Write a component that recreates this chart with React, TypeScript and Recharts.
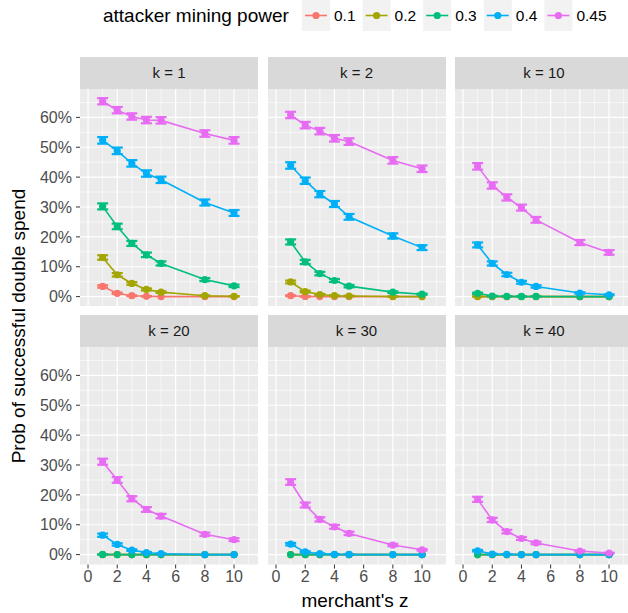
import React from "react";
import { LineChart, Line, XAxis, YAxis, CartesianGrid, ErrorBar, ReferenceLine } from "recharts";

const Z = [1, 2, 3, 4, 5, 8, 10];
const SERIES = ["0.1", "0.2", "0.3", "0.4", "0.45"];
const COLORS = ["#F8766D", "#A3A500", "#00BF7D", "#00B0F6", "#E76BF3"];
const PANELS = ["k = 1", "k = 2", "k = 10", "k = 20", "k = 30", "k = 40"];

// probability of success in %, one row per attacker mining power
const K1 = [
  [3.4, 1.1, 0.3, 0.1, 0, 0, 0],
  [13.1, 7.3, 4.4, 2.4, 1.5, 0.3, 0.1],
  [30.2, 23.5, 17.8, 14.0, 11.1, 5.7, 3.6],
  [52.3, 48.8, 44.6, 41.2, 39.1, 31.5, 28.0],
  [65.4, 62.4, 60.3, 59.1, 59.0, 54.6, 52.3],
];
const K2 = [
  [0.3, 0.05, 0, 0, 0, 0, 0],
  [4.9, 1.7, 0.7, 0.3, 0.2, 0.05, 0],
  [18.3, 11.6, 7.7, 5.4, 3.5, 1.5, 0.8],
  [43.9, 38.8, 34.3, 31.0, 26.7, 20.3, 16.4],
  [60.8, 57.4, 55.4, 53.0, 51.9, 45.6, 42.8],
];
const K10 = [
  [0, 0, 0, 0, 0, 0, 0],
  [0.05, 0, 0, 0, 0, 0, 0],
  [1.1, 0.2, 0.1, 0.05, 0.05, 0, 0],
  [17.3, 11.1, 7.4, 4.8, 3.4, 1.2, 0.6],
  [43.6, 37.2, 33.2, 29.8, 25.7, 18.1, 14.8],
];
const K20 = [
  [0, 0, 0, 0, 0, 0, 0],
  [0, 0, 0, 0, 0, 0, 0],
  [0.05, 0, 0, 0, 0, 0, 0],
  [6.5, 3.4, 1.5, 0.7, 0.3, 0, 0],
  [31.1, 25.0, 18.7, 15.1, 12.9, 6.8, 5.0],
];
const K30 = [
  [0, 0, 0, 0, 0, 0, 0],
  [0, 0, 0, 0, 0, 0, 0],
  [0, 0, 0, 0, 0, 0, 0],
  [3.5, 0.9, 0.3, 0.1, 0.05, 0, 0],
  [24.3, 16.6, 11.8, 9.3, 7.1, 3.2, 1.6],
];
const K40 = [
  [0, 0, 0, 0, 0, 0, 0],
  [0, 0, 0, 0, 0, 0, 0],
  [0, 0, 0, 0, 0, 0, 0],
  [1.3, 0.2, 0.1, 0, 0, 0, 0],
  [18.5, 11.6, 7.7, 5.4, 3.9, 1.2, 0.5],
];
const VALUES = [K1, K2, K10, K20, K30, K40];

// error bars are a 95% binomial interval over this many simulated runs
const TRIALS = 8000;

const X_TICKS = [0, 2, 4, 6, 8, 10];
const X_MINOR = [1, 3, 5, 7, 9, 11];
const Y_TICKS = [0, 10, 20, 30, 40, 50, 60];
const Y_MINOR = [5, 15, 25, 35, 45, 55, 65];

const X_DOMAIN = [-0.55, 11.64];
const Y_DOMAIN = [-3.31, 69.5];

const PANEL_W = 178;
const PLOT_H = 217.5;
const STRIP_H = 31.5;
const COL_LEFT = [80, 267.5, 455];
const STRIP_TOP = [57, 315];
const FONT = "'Liberation Sans', Arial, sans-serif";

const buildRows = (vals: number[][]) =>
  Z.map((z, i) => {
    const row: Record<string, number> = { z };
    vals.forEach((s, j) => {
      const p = s[i] / 100;
      row[`s${j}`] = s[i];
      row[`e${j}`] = 196 * Math.sqrt((p * (1 - p)) / TRIALS);
    });
    return row;
  });

const Panel = ({ index }: { index: number }) => {
  const row = Math.floor(index / 3);
  const col = index % 3;
  const data = buildRows(VALUES[index]);
  const yAxisW = col === 0 ? COL_LEFT[0] : 0;
  const xAxisH = row === 1 ? 25 : 0;
  const left = COL_LEFT[col] - yAxisW;
  const plotTop = STRIP_TOP[row] + STRIP_H;

  return (
    <>
      <div
        style={{
          position: "absolute",
          left: COL_LEFT[col],
          top: STRIP_TOP[row],
          width: PANEL_W,
          height: STRIP_H,
          background: "#D9D9D9",
          color: "#1A1A1A",
          fontSize: 15,
          display: "flex",
          alignItems: "center",
          justifyContent: "center",
        }}
      >
        {PANELS[index]}
      </div>
      <div style={{ position: "absolute", left, top: plotTop }}>
        <LineChart
          width={PANEL_W + yAxisW}
          height={PLOT_H + xAxisH}
          data={data}
          margin={{ top: 0, right: 0, bottom: 0, left: 0 }}
        >
          <CartesianGrid horizontal={false} vertical={false} fill="#EBEBEB" fillOpacity={1} />
          <XAxis
            type="number"
            dataKey="z"
            domain={X_DOMAIN}
            ticks={X_TICKS}
            interval={0}
            allowDataOverflow
            hide={row === 0}
            height={xAxisH || 1}
            axisLine={false}
            tickSize={4}
            tickLine={{ stroke: "#333333" }}
            tick={{ fill: "#4D4D4D", fontSize: 16 }}
          />
          <YAxis
            type="number"
            domain={Y_DOMAIN}
            ticks={Y_TICKS}
            interval={0}
            allowDataOverflow
            hide={col !== 0}
            width={yAxisW || 1}
            axisLine={false}
            tickSize={4}
            tickMargin={4}
            tickLine={{ stroke: "#333333" }}
            tick={{ fill: "#4D4D4D", fontSize: 16 }}
            tickFormatter={(v: number) => `${v}%`}
          />
          {X_MINOR.map((x) => (
            <ReferenceLine key={`xm${x}`} x={x} stroke="#FFFFFF" strokeWidth={0.6} />
          ))}
          {Y_MINOR.map((y) => (
            <ReferenceLine key={`ym${y}`} y={y} stroke="#FFFFFF" strokeWidth={0.6} />
          ))}
          {X_TICKS.map((x) => (
            <ReferenceLine key={`x${x}`} x={x} stroke="#FFFFFF" strokeWidth={1.2} />
          ))}
          {Y_TICKS.map((y) => (
            <ReferenceLine key={`y${y}`} y={y} stroke="#FFFFFF" strokeWidth={1.2} />
          ))}
          {SERIES.map((s, j) => (
            <Line
              key={`l${s}`}
              dataKey={`s${j}`}
              stroke={COLORS[j]}
              strokeWidth={1.6}
              dot={{ r: 3.6, fill: COLORS[j], stroke: COLORS[j], strokeWidth: 0 }}
              activeDot={false}
              isAnimationActive={false}
              type="linear"
            />
          ))}
          {SERIES.map((s, j) => (
            <Line
              key={`e${s}`}
              dataKey={`s${j}`}
              stroke="none"
              dot={false}
              activeDot={false}
              isAnimationActive={false}
              legendType="none"
            >
              <ErrorBar
                dataKey={`e${j}`}
                direction="y"
                width={5.5}
                stroke={COLORS[j]}
                strokeWidth={2.2}
                isAnimationActive={false}
              />
            </Line>
          ))}
        </LineChart>
      </div>
    </>
  );
};

const Legend = () => {
  const keyLeft = 302;
  const step = 60.6;
  return (
    <svg width={628} height={34} style={{ position: "absolute", left: 0, top: 0 }}>
      <text x={103} y={21.5} fontSize={19} fill="#000000">
        attacker mining power
      </text>
      {SERIES.map((s, j) => {
        const x = keyLeft + j * step;
        return (
          <g key={s}>
            <rect x={x} y={0} width={28} height={31} fill="#F2F2F2" />
            <line x1={x + 3} x2={x + 25} y1={15.5} y2={15.5} stroke={COLORS[j]} strokeWidth={1.6} />
            <circle cx={x + 14} cy={15.5} r={3.6} fill={COLORS[j]} />
            <text x={x + 32} y={21} fontSize={15.5} fill="#000000">
              {s}
            </text>
          </g>
        );
      })}
    </svg>
  );
};

export default function App() {
  return (
    <div
      style={{
        position: "absolute",
        left: 0,
        top: 0,
        width: 628,
        height: 613,
        overflow: "hidden",
        background: "#FFFFFF",
        fontFamily: FONT,
      }}
    >
      <Legend />
      {PANELS.map((p, i) => (
        <Panel key={p} index={i} />
      ))}
      <svg width={628} height={613} style={{ position: "absolute", left: 0, top: 0, pointerEvents: "none" }}>
        <text x={355} y={606.5} fontSize={19} textAnchor="middle" fill="#000000">
          merchant's z
        </text>
        <text
          x={0}
          y={0}
          fontSize={19}
          textAnchor="middle"
          fill="#000000"
          transform="translate(24.5 326) rotate(-90)"
        >
          Prob of successful double spend
        </text>
      </svg>
    </div>
  );
}
